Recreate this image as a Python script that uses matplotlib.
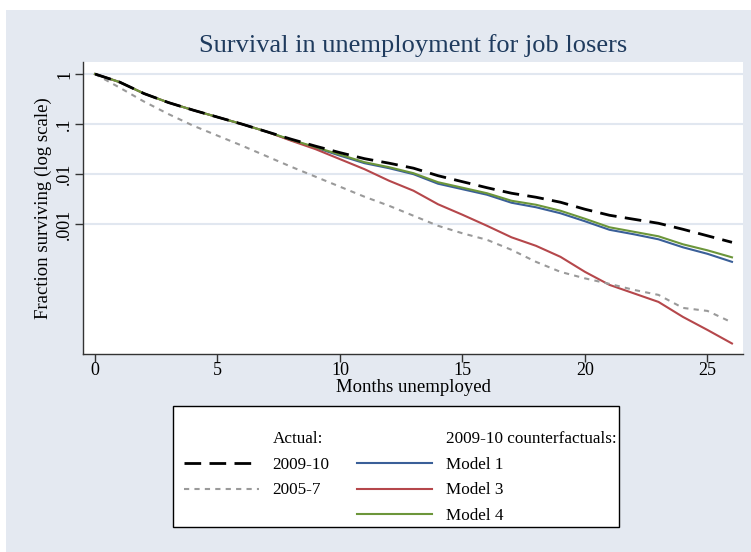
import numpy as np
import matplotlib
matplotlib.use("Agg")
import matplotlib.pyplot as plt
from matplotlib.lines import Line2D
from matplotlib.patches import Rectangle

plt.rcParams['font.family'] = ['Liberation Serif', 'DejaVu Serif']

# months since job loss
months = list(range(27))

# log10 of fraction still unemployed
log_actual_0910 = [0, -0.16, -0.39, -0.57, -0.72, -0.86, -1.00, -1.15, -1.30, -1.44,
                   -1.57, -1.69, -1.78, -1.88, -2.03, -2.15, -2.27, -2.38, -2.46,
                   -2.56, -2.70, -2.82, -2.90, -2.98, -3.10, -3.23, -3.36]
log_actual_0507 = [0, -0.27, -0.55, -0.80, -1.03, -1.23, -1.43, -1.64, -1.85, -2.05,
                   -2.25, -2.45, -2.63, -2.83, -3.03, -3.18, -3.31, -3.51, -3.75,
                   -3.95, -4.08, -4.19, -4.31, -4.41, -4.67, -4.73, -4.96]
log_model1 = [0, -0.16, -0.39, -0.57, -0.72, -0.86, -1.00, -1.15, -1.32, -1.47,
              -1.63, -1.78, -1.88, -2.00, -2.19, -2.30, -2.41, -2.57, -2.66,
              -2.78, -2.94, -3.11, -3.20, -3.30, -3.46, -3.59, -3.75]
log_model3 = [0, -0.16, -0.39, -0.57, -0.72, -0.86, -1.00, -1.15, -1.33, -1.50,
              -1.70, -1.90, -2.13, -2.33, -2.60, -2.81, -3.03, -3.26, -3.43,
              -3.65, -3.95, -4.21, -4.38, -4.55, -4.85, -5.11, -5.38]
log_model4 = [0, -0.16, -0.39, -0.57, -0.72, -0.86, -1.00, -1.15, -1.31, -1.46,
              -1.61, -1.76, -1.86, -1.98, -2.16, -2.27, -2.38, -2.53, -2.61,
              -2.73, -2.89, -3.06, -3.15, -3.24, -3.40, -3.52, -3.66]

y_ticks = [1, 0.1, 0.01, 0.001]
y_ticklabels = ['1', '.1', '.01', '.001']
x_ticks = [0, 5, 10, 15, 20, 25]

bg = '#e4e9f1'
navy = '#1f3b5e'
c_blue = '#3a5f98'
c_red = '#b5474b'
c_green = '#6c963a'
c_gray = '#9a9a9a'

W, H = 751, 552
fig = plt.figure(figsize=(W / 100, H / 100), dpi=100)
fig.patch.set_facecolor('white')
# graph region, with a thin white border on top and left
fig.patches.append(Rectangle((6 / W, 0), 1, 1 - 10 / H, transform=fig.transFigure,
                             facecolor=bg, edgecolor='none', zorder=-10))

ax = fig.add_axes([83 / W, 1 - 354 / H, (743 - 83) / W, (354 - 62) / H])
ax.set_facecolor('white')

def frac(v):
    return 10 ** np.array(v)

ax.plot(months, frac(log_model1), color=c_blue, lw=1.5, zorder=3)
ax.plot(months, frac(log_model3), color=c_red, lw=1.5, zorder=3)
ax.plot(months, frac(log_model4), color=c_green, lw=1.5, zorder=3)
ax.plot(months, frac(log_actual_0507), color=c_gray, lw=1.5, ls=(0, (2.5, 2.5)), zorder=4)
ax.plot(months, frac(log_actual_0910), color='black', lw=2, ls=(0, (6, 3)), zorder=5)

ax.set_yscale('log')
ax.set_ylim(10 ** -5.59, 10 ** 0.24)
ax.set_xlim(-0.49, 26.45)
ax.set_yticks(y_ticks)
ax.set_yticklabels(y_ticklabels, rotation=90, va='center')
ax.minorticks_off()
ax.set_xticks(x_ticks)
ax.tick_params(axis='both', labelsize=13, length=6, width=1, color='#333333',
               direction='out', pad=1)
ax.tick_params(axis='x', pad=0)
ax.yaxis.grid(True, color='#e1e7f0', lw=1.5)
ax.set_axisbelow(True)

for s in ['top', 'right']:
    ax.spines[s].set_visible(False)
for s in ['left', 'bottom']:
    ax.spines[s].set_color('#333333')
    ax.spines[s].set_linewidth(1)

ax.set_xlabel('Months unemployed', fontsize=13.5, labelpad=0)
ax.set_ylabel('Fraction surviving (log scale)', fontsize=13.5, labelpad=3)

fig.text(413 / W, 1 - 46 / H, 'Survival in unemployment for job losers',
         ha='center', va='center', fontsize=19, color=navy)

# legend box
fig.patches.append(Rectangle((173 / W, 1 - 527 / H), (619 - 173) / W, (527 - 406) / H,
                             transform=fig.transFigure, facecolor='white',
                             edgecolor='black', lw=1, zorder=1))

blank = Line2D([], [], color='none')
handles = [blank,
           Line2D([], [], color='black', lw=2, ls=(0, (6, 3))),
           Line2D([], [], color=c_gray, lw=1.5, ls=(0, (2.5, 2.5))),
           blank,
           blank,
           Line2D([], [], color=c_blue, lw=1.5),
           Line2D([], [], color=c_red, lw=1.5),
           Line2D([], [], color=c_green, lw=1.5)]
labels = ['Actual:', '2009-10', '2005-7', ' ',
          '2009-10 counterfactuals:', 'Model 1', 'Model 3', 'Model 4']
leg = fig.legend(handles, labels, ncol=2, loc='upper center',
                 bbox_to_anchor=(400 / W, 1 - 417 / H),
                 fontsize=12.3, handlelength=4.4, handletextpad=0.8,
                 columnspacing=1.6, labelspacing=0.58, borderpad=0.3,
                 frameon=False)

fig.savefig('out.png', dpi=100, facecolor=fig.get_facecolor())
